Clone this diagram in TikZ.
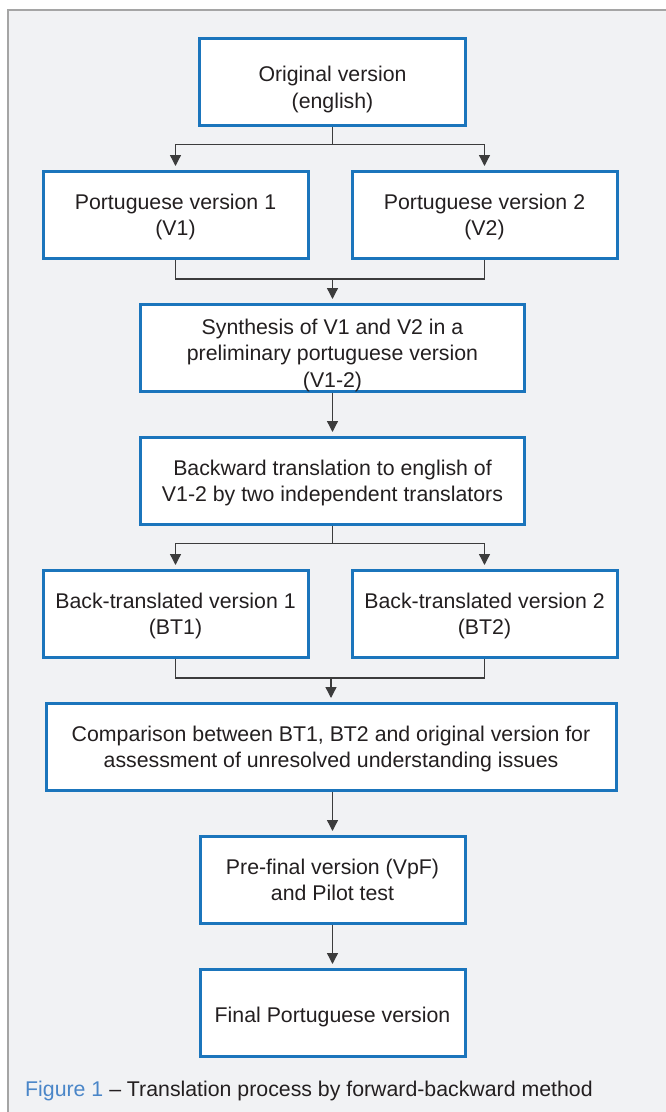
\documentclass[tikz,border=0pt]{standalone}
\usepackage{fontspec}
\setmainfont{Liberation Sans}
\usetikzlibrary{arrows.meta}
\usetikzlibrary{positioning}
\usetikzlibrary{calc}
\definecolor{mblue}{RGB}{27,117,188}
\definecolor{mtext}{RGB}{35,31,32}
\definecolor{mline}{RGB}{60,60,60}
\definecolor{mback}{RGB}{241,242,244}
\definecolor{mframe}{RGB}{165,165,165}
\definecolor{mcap}{RGB}{74,134,200}

\begin{document}
\begin{tikzpicture}[x=1pt,y=-1pt,
		box/.style={draw=mblue,fill=white,line width=3pt,align=center,
			minimum width=265pt,minimum height=86.5pt,inner sep=0pt,text=mtext,
			font={\fontsize{21.3pt}{26.5pt}\selectfont},text depth=0pt},
		wide/.style={minimum width=384pt},
		wider/.style={minimum width=570pt},
		link/.style={draw=mline,line width=1.3pt},
		arrow/.style={link,-{Triangle[length=11pt,width=11pt]},shorten >=4pt},
		node distance=43.5pt
	]
	\useasboundingbox (0,0) rectangle (666,1112);

	% the frame
	\fill[mback] (8,10) rectangle (680,1130);
	\draw[mframe,line width=1.5pt] (680,10) -- (8,10) -- (8,1130);

	% the forward steps
	\node[box,minimum width=266pt,text height=53pt] (orig) at (332.5,81.75) {Original version\\(english)};
	\node[box,below=of orig,xshift=-157pt] (pv1) {Portuguese version 1\\(V1)};
	\node[box,below=of orig,xshift=152pt] (pv2) {Portuguese version 2\\(V2)};
	\coordinate (c1) at (orig |- pv1.south);
	\node[box,wide,below=of c1,text height=79pt] (synth) {Synthesis of V1 and V2 in a\\preliminary portuguese version\\(V1-2)};

	% the backward steps
	\node[box,wide,below=of synth] (back) {Backward translation to english of\\V1-2 by two independent translators};
	\node[box,below=of back,xshift=-157pt] (bt1) {Back-translated version 1\\(BT1)};
	\node[box,below=of back,xshift=152pt] (bt2) {Back-translated version 2\\(BT2)};
	\coordinate (c2) at (back |- bt1.south);
	\node[box,wider,below=of c2,xshift=-1.5pt] (comp) {Comparison between BT1, BT2 and original version for\\assessment of unresolved understanding issues};
	\node[box,below=of comp,xshift=1.5pt] (pref) {Pre-final version (VpF)\\and Pilot test};
	\node[box,below=of pref,text height=19pt] (final) {Final Portuguese version};

	% the split and merge points
	\coordinate (s1) at ($(orig.south)+(0,18)$);
	\coordinate (m1) at ($(synth.north)+(0,-24)$);
	\coordinate (s2) at ($(back.south)+(0,18)$);
	\coordinate (m2) at ($(comp.north)+(0,-24)$);

	% the edges
	\draw[link] (orig.south) -- (s1);
	\draw[arrow] (s1) -| (pv1.north);
	\draw[arrow] (s1) -| (pv2.north);
	\draw[link] (pv1.south) |- (m1);
	\draw[link] (pv2.south) |- (m1);
	\draw[arrow] (m1) -- (synth.north);
	\draw[arrow] (synth) -- (back);
	\draw[link] (back.south) -- (s2);
	\draw[arrow] (s2) -| (bt1.north);
	\draw[arrow] (s2) -| (bt2.north);
	\draw[link] (bt1.south) |- (m2);
	\draw[link] (bt2.south) |- (m2);
	\draw[arrow] (m2) -- (comp.north);
	\draw[arrow] (comp.south -| pref.north) -- (pref);
	\draw[arrow] (pref) -- (final);

	% the caption
	\node[anchor=base west,inner sep=0pt,font={\fontsize{21.3pt}{26.5pt}\selectfont},text=mtext] (cap) at (25,1096)
		{\textcolor{mcap}{Figure 1} -- Translation process by forward-backward method};
\end{tikzpicture}
\end{document}
